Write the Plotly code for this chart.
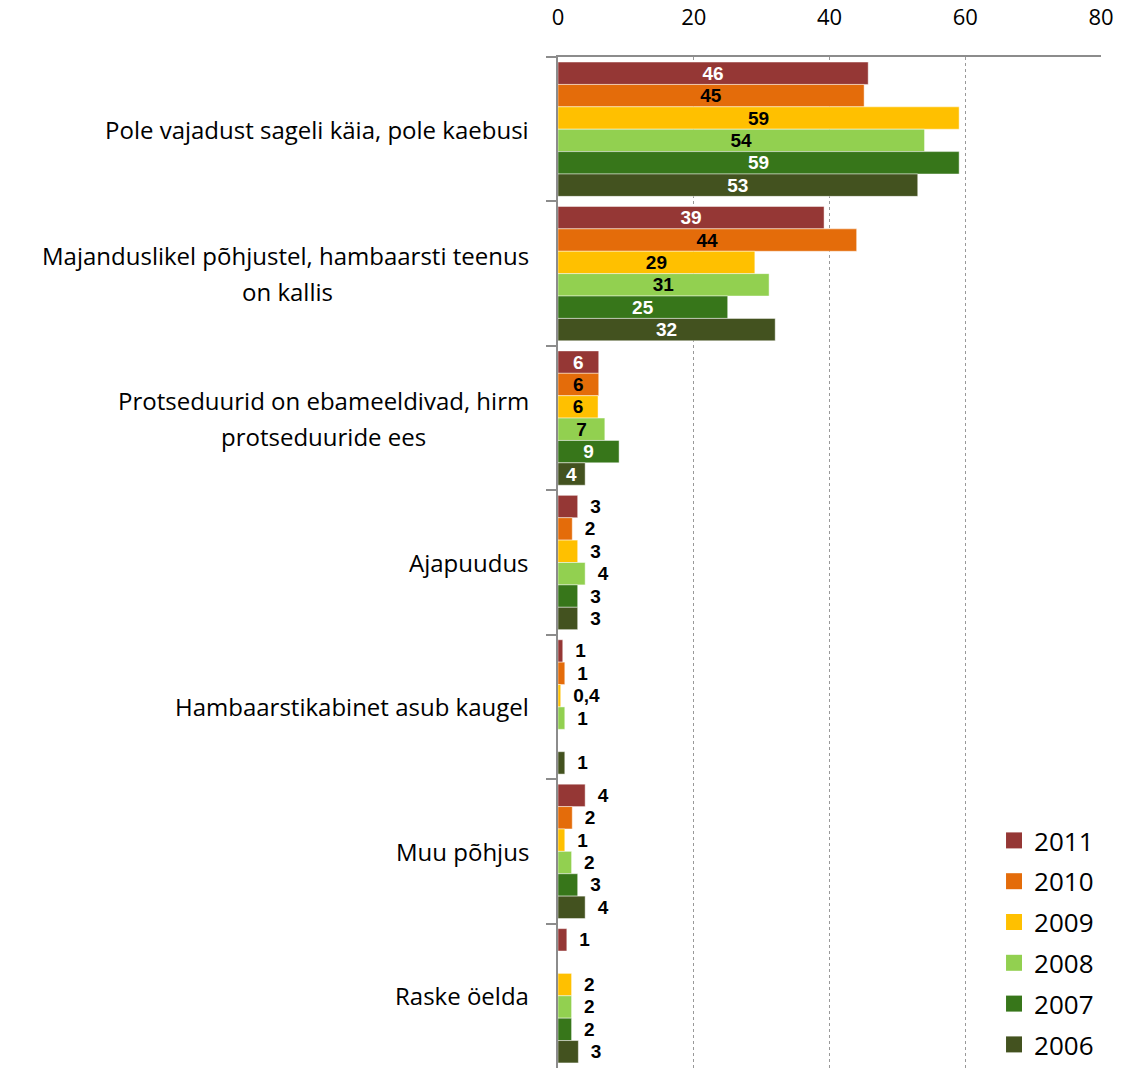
import plotly.graph_objects as go

categories = [
    "Pole vajadust sageli käia, pole kaebusi",
    "Majanduslikel põhjustel, hambaarsti teenus<br>on kallis",
    "Protseduurid on ebameeldivad, hirm<br>protseduuride ees",
    "Ajapuudus",
    "Hambaarstikabinet asub kaugel",
    "Muu põhjus",
    "Raske öelda",
]
years = ["2011", "2010", "2009", "2008", "2007", "2006"]
colors = ["#953735", "#E46C0A", "#FFC000", "#92D050", "#37761A", "#43521F"]
inside_text_colors = ["white", "black", "black", "black", "white", "white"]

values = {
    "2011": [45.7, 39.2, 6.0, 2.9, 0.7, 4.0, 1.3],
    "2010": [45.1, 44.0, 6.0, 2.1, 1.0, 2.1, None],
    "2009": [59.1, 29.0, 5.9, 2.9, 0.4, 1.0, 2.0],
    "2008": [54.0, 31.1, 6.9, 4.0, 1.0, 2.0, 2.0],
    "2007": [59.1, 25.0, 9.0, 2.9, None, 2.9, 2.0],
    "2006": [53.0, 32.0, 4.0, 2.9, 1.0, 4.0, 3.0],
}
labels = {
    "2011": ["46", "39", "6", "3", "1", "4", "1"],
    "2010": ["45", "44", "6", "2", "1", "2", ""],
    "2009": ["59", "29", "6", "3", "0,4", "1", "2"],
    "2008": ["54", "31", "7", "4", "1", "2", "2"],
    "2007": ["59", "25", "9", "3", "", "3", "2"],
    "2006": ["53", "32", "4", "3", "1", "4", "3"],
}
xticks = [0, 20, 40, 60, 80]
n_inside = 3  # first three categories have labels inside the bars

LABEL_FONT = "Open Sans"
CAT_SIZE = 24
# horizontal centre (paper x) of the wrapped second lines, so they sit centred under line 1
wrap_centres = {1: -0.499, 2: -0.431}

fig = go.Figure()
for yr, col, tcol in zip(years, colors, inside_text_colors):
    inside = [i < n_inside for i in range(len(categories))]
    txt = [t if s else ("\u2002" + t if t else t) for t, s in zip(labels[yr], inside)]
    fig.add_trace(go.Bar(
        name=yr,
        y=categories,
        x=values[yr],
        orientation="h",
        marker=dict(color=col, line=dict(color="rgba(255,255,255,0.45)", width=1)),
        text=txt,
        textposition=["inside" if s else "outside" for s in inside],
        insidetextanchor="middle",
        textangle=0,
        textfont=dict(family="Liberation Sans", size=19,
                      color=[tcol if s else "black" for s in inside],
                      weight="bold"),
        constraintext="none",
        cliponaxis=False,
        hoverinfo="skip",
        showlegend=False,
    ))

# legend entries with square swatches
for yr, col in zip(years, colors):
    fig.add_trace(go.Scatter(
        x=[None], y=[None], mode="markers", name=yr, legendgroup=yr,
        marker=dict(symbol="square", size=17, color=col),
        hoverinfo="skip",
    ))

for i, c in enumerate(categories):
    lines = c.split("<br>")
    font = dict(family=LABEL_FONT, size=CAT_SIZE, color="black")
    if len(lines) == 1:
        fig.add_annotation(x=-0.05, xref="paper", y=c, yref="y", text=c,
                           showarrow=False, xanchor="right", yanchor="middle", font=font)
    else:
        fig.add_annotation(x=-0.05, xref="paper", y=c, yref="y", yshift=18,
                           text=lines[0], showarrow=False, xanchor="right",
                           yanchor="middle", font=font)
        fig.add_annotation(x=wrap_centres[i], xref="paper", y=c, yref="y", yshift=-18,
                           text=lines[1], showarrow=False, xanchor="center",
                           yanchor="middle", font=font)

fig.update_layout(
    barmode="group",
    bargap=0.07,
    bargroupgap=0,
    width=1121,
    height=1070,
    plot_bgcolor="white",
    paper_bgcolor="white",
    margin=dict(l=558, r=20, t=57, b=2),
    legend=dict(
        x=0.803, y=0.0, xanchor="left", yanchor="bottom",
        bgcolor="white",
        font=dict(family=LABEL_FONT, size=26, color="black"),
        traceorder="grouped",
        tracegroupgap=4,
    ),
)
fig.update_xaxes(
    side="top",
    range=[0, 80],
    tickvals=xticks,
    ticks="outside",
    ticklen=21,
    tickcolor="rgba(0,0,0,0)",
    tickfont=dict(family=LABEL_FONT, size=22, color="black"),
    showgrid=True,
    gridcolor="#999999",
    griddash="dot",
    gridwidth=1,
    showline=True,
    linecolor="#8c8c8c",
    linewidth=2,
    zeroline=False,
)
fig.update_yaxes(
    autorange="reversed",
    showticklabels=False,
    ticks="outside",
    tickson="boundaries",
    ticklen=10,
    tickcolor="#8c8c8c",
    tickwidth=2,
    showline=True,
    linecolor="#8c8c8c",
    linewidth=2,
    showgrid=False,
)

fig.write_html("out.html", config={"displayModeBar": False},
               post_script="document.body.style.margin='0';")
